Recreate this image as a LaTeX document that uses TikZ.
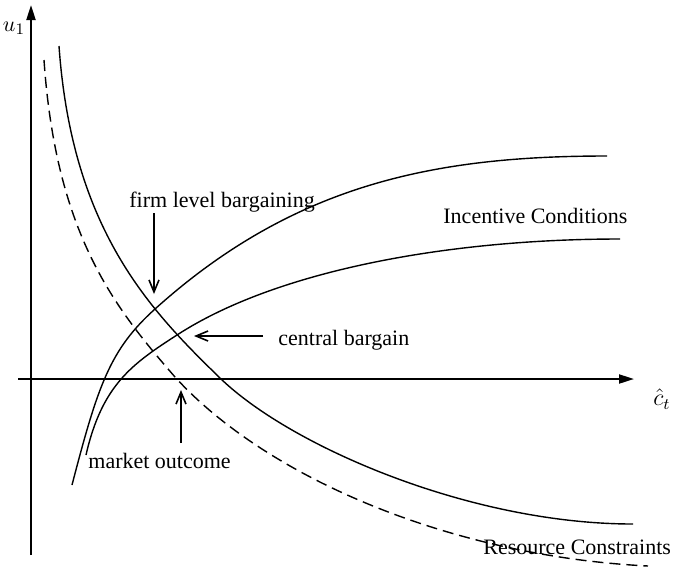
\documentclass[tikz,border=0pt]{standalone}
\usepackage{fontspec}
\setmainfont{Liberation Serif}
\usetikzlibrary{arrows.meta}
\tikzset{
	axis/.style={line width=1pt, -{Triangle[length=7.5pt,width=4.5pt]}},
	curve/.style={line width=0.7pt},
	pointer/.style={line width=0.8pt, -{Straight Barb[length=6pt,width=5pt]}},
	lbl/.style={inner sep=0pt, anchor=base west, font=\fontsize{11}{13}\selectfont}
}
\begin{document}
\begin{tikzpicture}[x=0.5pt, y=-0.5pt]
		\useasboundingbox (0,0) rectangle (680,569);
		
		% axes
		\coordinate (ybot) at (31,555);
		\coordinate (ytop) at (31,5);
		\coordinate (xleft) at (18,379);
		\coordinate (xright) at (634,379);
		\draw[axis] (ybot) -- (ytop);
		\draw[axis] (xleft) -- (xright);
		\node[font=\fontsize{11}{13}\selectfont] (ulab) at (14,28) {$u_1$};
		\node[font=\fontsize{12}{14}\selectfont] (clab) at (662,399) {$\hat{c}_t$};
		
		% resource constraints
		\draw[curve] (59,46) .. controls (72,230) and (150,310) .. (220,378)
			.. controls (290,446) and (470,524) .. (633,524);
		\draw[curve, dash pattern=on 5.5pt off 3pt] (44,60) .. controls (56,235) and (115,308) .. (175,377)
			.. controls (265,476) and (448,556) .. (648,566);
		
		% incentive conditions
		\draw[curve] (72,485) .. controls (98,385) and (110,349.5) .. (155,309)
			.. controls (295,183) and (437,156) .. (607,156);
		\draw[curve] (86,455) .. controls (102,385) and (132,364) .. (177,335)
			.. controls (277,270) and (450,239) .. (620,239);
		
		% labels
		\node[lbl] (firmlbl) at (129,207) {firm level bargaining};
		\node[lbl] (centlbl) at (278,345) {central bargain};
		\node[lbl] (marklbl) at (88,468) {market outcome};
		\node[lbl] (inclbl) at (443,223) {Incentive Conditions};
		\node[lbl] (reslbl) at (483,554) {Resource Constraints};
		
		% pointers
		\coordinate (firmtail) at (154,213);
		\coordinate (firmtip) at (154,294);
		\coordinate (centtail) at (263,336);
		\coordinate (centtip) at (194,336);
		\coordinate (marktail) at (181,443);
		\coordinate (marktip) at (181,390);
		\draw[pointer] (firmtail) -- (firmtip);
		\draw[pointer] (centtail) -- (centtip);
		\draw[pointer] (marktail) -- (marktip);
	\end{tikzpicture}
\end{document}
